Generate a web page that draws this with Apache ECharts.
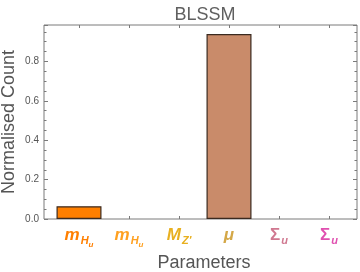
<!DOCTYPE html>
<html><head><meta charset="utf-8">
<script src="https://cdn.jsdelivr.net/npm/echarts@6/dist/echarts.min.js"></script>
<style>html,body{margin:0;padding:0;background:#fff}#c{width:360px;height:272px}</style>
</head><body><div id="c"></div>
<script>
const title = 'BLSSM';
const categories = ['mHu1', 'mHu2', 'MZp', 'mu', 'Sigmau1', 'Sigmau2'];
const values = [0.065, 0, 0, 0.939, 0, 0];
const barColors = ['#FF7F00', '#FFA033', '#E8B020', '#C98B6A', '#D07890', '#E050B0'];
const labelColors = ['#FF7F00', '#FFA020', '#E8B020', '#D4A848', '#D07890', '#E050B0'];
// label pieces: [main, subscript, sub-subscript]
const labelParts = [['m', 'H', 'u'], ['m', 'H', 'u'], ['M', "Z'", ''], ['\u03bc', '', ''], ['\u03a3', 'u', ''], ['\u03a3', 'u', '']];
const yTicks = [0, 0.2, 0.4, 0.6, 0.8];
const yMax = 0.985;
const xName = 'Parameters';
const yName = 'Normalised Count';

const font = 'Liberation Sans, Arial, sans-serif';
const rich = {};
labelColors.forEach((c, i) => {
  rich['a' + i] = {color: c, fontSize: 17, fontWeight: 'bold', fontStyle: i >= 4 ? 'normal' : 'italic', fontFamily: font, lineHeight: 18, verticalAlign: 'top'};
  rich['b' + i] = {color: c, fontSize: 11, fontWeight: 'bold', fontStyle: 'italic', fontFamily: font, lineHeight: 11, padding: [8, 0, 0, 1], verticalAlign: 'top'};
  rich['c' + i] = {color: c, fontSize: 8, fontWeight: 'bold', fontStyle: 'italic', fontFamily: font, lineHeight: 8, padding: [14, 0, 0, 0], verticalAlign: 'top'};
});
function fmt(v, idx) {
  const p = labelParts[idx];
  let s = '{a' + idx + '|' + p[0] + '}';
  if (p[1]) s += '{b' + idx + '|' + p[1] + '}';
  if (p[2]) s += '{c' + idx + '|' + p[2] + '}';
  return s;
}
const frameColor = '#7a7a7a';
const txtColor = '#555';
const chart = echarts.init(document.getElementById('c'), null, {renderer: 'canvas'});
chart.setOption({
  animation: false,
  backgroundColor: '#fff',
  title: {text: title, left: 200, top: 1, textAlign: 'center', textStyle: {fontFamily: font, fontSize: 18, fontWeight: 'normal', color: '#606060'}},
  grid: [
    {left: 44, top: 25, width: 313, height: 194, outerBoundsMode: 'none', containLabel: false, show: true, borderColor: frameColor, borderWidth: 1, backgroundColor: 'transparent'},
    {left: 54, top: 25, width: 300, height: 194, outerBoundsMode: 'none', containLabel: false}
  ],
  xAxis: [
    {gridIndex: 0, type: 'value', min: 0, max: 1, show: false},
    {gridIndex: 1, type: 'category', data: categories, position: 'bottom',
     axisLine: {show: false}, axisTick: {show: true, inside: true, alignWithLabel: true, interval: 0, length: 3, lineStyle: {color: frameColor}},
     axisLabel: {margin: 8, interval: 0, formatter: fmt, rich: rich},
     name: xName, nameLocation: 'middle', nameGap: 35, nameMoveOverlap: false, nameTextStyle: {fontFamily: font, fontSize: 18, color: txtColor}},
    {gridIndex: 1, type: 'category', data: categories, position: 'top',
     axisLine: {show: false}, axisTick: {show: true, inside: true, alignWithLabel: true, interval: 0, length: 3, lineStyle: {color: frameColor}},
     axisLabel: {show: false}}
  ],
  yAxis: [
    {gridIndex: 0, type: 'value', min: 0, max: yMax, interval: 0.2, position: 'left',
     axisLine: {show: false}, splitLine: {show: false},
     axisTick: {show: true, inside: true, length: 4, lineStyle: {color: frameColor}},
     minorTick: {show: true, splitNumber: 4, length: 2.5, lineStyle: {color: frameColor}},
     axisLabel: {fontFamily: font, fontSize: 10, color: txtColor, margin: 5, formatter: v => yTicks.includes(Math.round(v*10)/10) ? v.toFixed(1) : ''},
     name: yName, nameLocation: 'middle', nameRotate: 90, nameGap: 26, nameMoveOverlap: false, nameTextStyle: {fontFamily: font, fontSize: 18, color: txtColor}},
    {gridIndex: 0, type: 'value', min: 0, max: yMax, interval: 0.2, position: 'right',
     axisLine: {show: false}, splitLine: {show: false},
     axisTick: {show: true, inside: true, length: 4, lineStyle: {color: frameColor}},
     minorTick: {show: true, splitNumber: 4, length: 2.5, lineStyle: {color: frameColor}},
     axisLabel: {show: false}},
    {gridIndex: 1, type: 'value', min: 0, max: yMax, show: false}
  ],
  series: [{
    type: 'bar', xAxisIndex: 1, yAxisIndex: 2, barWidth: 45,
    data: values.map((v, i) => ({value: v, itemStyle: {color: barColors[i], borderWidth: v > 0 ? 1.2 : 0}})),
    itemStyle: {borderColor: '#3b2a20', borderWidth: 1.2}
  }]
});
</script></body></html>
